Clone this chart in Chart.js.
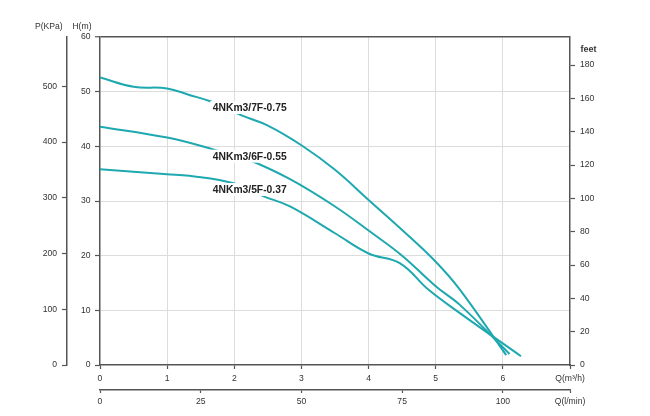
<!DOCTYPE html>
<html><head><meta charset="utf-8">
<script src="https://cdn.jsdelivr.net/npm/chart.js@4.4.0/dist/chart.umd.min.js"></script>
<style>html,body{margin:0;padding:0;background:#fff}</style>
</head><body>
<canvas id="c" width="650" height="416"></canvas>
<script>
// ---- data ----
const seriesNames = ['4NKm3/7F-0.75', '4NKm3/6F-0.55', '4NKm3/5F-0.37'];
const q7F = [0, 0.5, 1.0, 1.33, 1.65, 2.1, 2.5, 3.0, 3.5, 4.0, 4.5, 5.0, 5.36, 6.05];
const h7F = [52.6, 50.9, 50.6, 49.4, 48.2, 45.7, 43.8, 40.2, 35.7, 30.2, 24.7, 18.9, 13.8, 1.8];
const q6F = [0, 1.0, 1.7, 2.2, 2.83, 3.5, 4.0, 4.5, 5.0, 5.36, 6.1];
const h6F = [43.6, 41.6, 39.4, 37.6, 34.0, 29.0, 24.6, 20.0, 14.4, 11.0, 2.0];
const q5F = [0, 1.0, 1.33, 2.0, 2.43, 2.83, 3.5, 4.0, 4.47, 4.89, 5.36, 6.27];
const h5F = [35.8, 34.9, 34.6, 33.2, 30.9, 29.0, 24.1, 20.4, 18.6, 13.8, 9.5, 1.6];

const qTicks = [0, 1, 2, 3, 4, 5, 6, 7];
const qTickLabels = ['0', '1', '2', '3', '4', '5', '6', 'Q(m\u00B3/h)'];
const lminTicks = [0, 25, 50, 75, 100, 700 / 6];
const lminTickLabels = ['0', '25', '50', '75', '100', 'Q(l/min)'];
const hTicks = [0, 10, 20, 30, 40, 50, 60];
const pTicks = [0, 100, 200, 300, 400, 500];
const feetTicks = [0, 20, 40, 60, 80, 100, 120, 140, 160, 180];

// ---- styling ----
const FAM = "'Liberation Sans', Arial, sans-serif";
const TEAL = '#1ea8b0';
const AXIS = '#555555';
const GRID = '#dcdcdc';
const tickFont = { family: FAM, size: 8.6 };
const toXY = (qs, hs) => qs.map((q, i) => ({ x: q, y: hs[i] }));
const setTicks = (vals) => (s) => { s.ticks = vals.map(v => ({ value: v })); };
const labelFrom = (vals, labels) => (v) => { const i = vals.findIndex(t => Math.abs(t - v) < 1e-6); return i >= 0 ? labels[i] : ''; };

const curveLabelPos = [
  { q: 1.68, h: 47.1 },
  { q: 1.68, h: 38.2 },
  { q: 1.68, h: 32.1 }
];

const textPlugin = {
  id: 'texts',
  afterDatasetsDraw(chart) {
    const ctx = chart.ctx;
    const xs = chart.scales.x, ys = chart.scales.y;
    ctx.save();
    ctx.font = "bold 10.3px " + FAM;
    ctx.textBaseline = 'middle';
    ctx.textAlign = 'left';
    seriesNames.forEach((name, i) => {
      const px = xs.getPixelForValue(curveLabelPos[i].q);
      const py = ys.getPixelForValue(curveLabelPos[i].h);
      const w = ctx.measureText(name).width;
      ctx.fillStyle = '#ffffff';
      ctx.fillRect(px - 2.5, py - 6.5, w + 5, 13);
      ctx.fillStyle = '#222222';
      ctx.fillText(name, px, py + 0.5);
    });
    ctx.restore();
  },
  afterDraw(chart) {
    const ctx = chart.ctx;
    ctx.save();
    ctx.fillStyle = '#333333';
    ctx.textBaseline = 'middle';
    ctx.font = "8.6px " + FAM;
    ctx.textAlign = 'right';
    ctx.fillText('P(KPa)', 62.7, 26.5);
    ctx.fillText('H(m)', 91.5, 26.5);
    ctx.font = "bold 9px " + FAM;
    ctx.textAlign = 'left';
    ctx.fillText('feet', 580.5, 49.5);
    ctx.restore();
  }
};

new Chart(document.getElementById('c'), {
  type: 'line',
  data: {
    datasets: [
      { label: seriesNames[0], data: toXY(q7F, h7F) },
      { label: seriesNames[1], data: toXY(q6F, h6F) },
      { label: seriesNames[2], data: toXY(q5F, h5F) }
    ].map(d => Object.assign(d, {
      xAxisID: 'x', yAxisID: 'y', borderColor: TEAL, borderWidth: 2,
      pointRadius: 0, fill: false, tension: 0.4
    }))
  },
  options: {
    responsive: false,
    animation: false,
    devicePixelRatio: 1,
    layout: { padding: { left: 10, right: 40, top: 37, bottom: 6 } },
    plugins: { legend: { display: false }, tooltip: { enabled: false } },
    scales: {
      x: {
        type: 'linear', position: 'bottom', min: 0, max: 7, weight: 0,
        afterBuildTicks: setTicks(qTicks),
        afterFit: s => { s.height = 25; },
        grid: {
          color: c => (c.tick && (c.tick.value === 0 || c.tick.value === 7)) ? 'rgba(0,0,0,0)' : GRID,
          lineWidth: 1, tickLength: 4, tickColor: AXIS, tickWidth: 1.2
        },
        border: { color: AXIS, width: 1.5 },
        ticks: { autoSkip: false, maxRotation: 0, padding: 4, color: '#333', font: tickFont,
                 callback: labelFrom(qTicks, qTickLabels) }
      },
      x2: {
        type: 'linear', position: 'bottom', min: 0, max: 700 / 6, weight: 1,
        afterBuildTicks: setTicks(lminTicks),
        afterFit: s => { s.height = 20; },
        grid: { drawOnChartArea: false, tickLength: 3, tickColor: AXIS, tickWidth: 1.2 },
        border: { color: AXIS, width: 1.5 },
        ticks: { autoSkip: false, maxRotation: 0, padding: 3, color: '#333', font: tickFont,
                 callback: labelFrom(lminTicks, lminTickLabels) }
      },
      y: {
        type: 'linear', position: 'left', min: 0, max: 60, weight: 0,
        afterBuildTicks: setTicks(hTicks),
        afterFit: s => { s.width = 33; },
        grid: {
          color: c => !c.tick ? GRID : (c.tick.value === 60 ? AXIS : (c.tick.value === 0 ? 'rgba(0,0,0,0)' : GRID)),
          lineWidth: c => (c.tick && c.tick.value === 60) ? 1.5 : 1,
          tickLength: 5, tickColor: AXIS, tickWidth: 1.2
        },
        border: { color: AXIS, width: 1.5 },
        ticks: { padding: 4.5, color: '#333', font: tickFont, callback: labelFrom(hTicks, hTicks.map(String)) }
      },
      p: {
        type: 'linear', position: 'left', min: 0, max: 60 * 9.80665, weight: 1,
        afterBuildTicks: setTicks(pTicks),
        afterFit: s => { s.width = 57; },
        grid: { drawOnChartArea: false, tickLength: 5, tickColor: AXIS, tickWidth: 1.2 },
        border: { color: AXIS, width: 1.5 },
        ticks: { padding: 5, color: '#333', font: tickFont, callback: labelFrom(pTicks, pTicks.map(String)) }
      },
      feet: {
        type: 'linear', position: 'right', min: 0, max: 60 * 3.28084,
        afterBuildTicks: setTicks(feetTicks),
        afterFit: s => { s.width = 40; },
        grid: { drawOnChartArea: false, tickLength: 5, tickColor: AXIS, tickWidth: 1.2 },
        border: { color: AXIS, width: 1.5 },
        ticks: { padding: 5, color: '#333', font: tickFont, callback: labelFrom(feetTicks, feetTicks.map(String)) }
      }
    }
  },
  plugins: [textPlugin]
});
</script>
</body></html>
